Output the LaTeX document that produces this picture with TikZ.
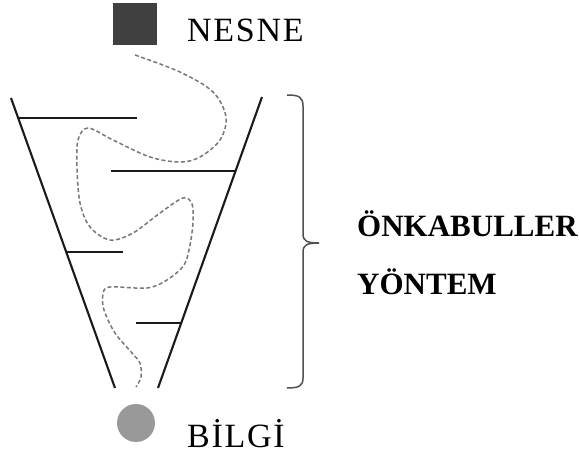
\documentclass[tikz,border=0pt]{standalone}
\usepackage{fontspec}
\setmainfont{Liberation Serif}
\definecolor{sqcol}{HTML}{404040}
\definecolor{dotcol}{HTML}{999999}
\definecolor{dashcol}{HTML}{777777}
\definecolor{linecol}{HTML}{1A1A1A}
\definecolor{bracecol}{HTML}{505050}
\tikzset{
  funnel/.style={draw=linecol, line width=2.1pt},
  shelf/.style={draw=linecol, line width=2.5pt},
  pathline/.style={draw=dashcol, line width=1.5pt, dash pattern=on 4pt off 2.5pt},
  bracestyle/.style={draw=bracecol, line width=1.5pt},
  lbl/.style={inner sep=0pt, anchor=base west, font=\fontsize{34}{40}\selectfont\addfontfeature{LetterSpace=5}},
  blbl/.style={inner sep=0pt, anchor=base west, font=\fontsize{31}{36}\selectfont\bfseries}
}
\begin{document}
\begin{tikzpicture}[x=1pt, y=-1pt]
\useasboundingbox (0,0) rectangle (579,457);
% object and knowledge
\node[fill=sqcol, minimum width=44pt, minimum height=42pt, inner sep=0pt] (obj) at (135,24) {};
\node[lbl] (nesne) at (187,42) {NESNE};
\node[circle, fill=dotcol, minimum size=38pt, inner sep=0pt] (info) at (136,423) {};
\node[lbl] (bilgi) at (187,447) {BİLGİ};
% funnel
\coordinate (lt) at (11,98);
\coordinate (lb) at (115,388);
\coordinate (rt) at (262,97);
\coordinate (rb) at (158,388);
\draw[funnel] (lt) -- (lb);
\draw[funnel] (rt) -- (rb);
% shelves
\coordinate (s1a) at (18,118); \coordinate (s1b) at (137,118);
\coordinate (s2a) at (111,171); \coordinate (s2b) at (235,171);
\coordinate (s3a) at (66,252); \coordinate (s3b) at (123,252);
\coordinate (s4a) at (136,323); \coordinate (s4b) at (181,323);
\draw[shelf] (s1a) -- (s1b);
\draw[shelf] (s2a) -- (s2b);
\draw[shelf] (s3a) -- (s3b);
\draw[shelf] (s4a) -- (s4b);
% winding path
\coordinate (ps) at (135,55);
\coordinate (pe) at (136,387);
\draw[pathline] plot[smooth, tension=0.55] coordinates {
 (ps) (180,72) (213,92) (226,117) (220,140) (200,157) (180,162) (150,157)
 (113,140) (88,128) (78,140) (77,167) (80,203) (90,227) (110,240) (133,233)
 (160,213) (183,198) (192,204) (193,222) (190,245) (184,265) (167,280)
 (147,288) (110,287) (103,294) (104,310) (115,333) (132,353) (140,363)
 (141,377) (pe)};
% brace
\coordinate (bt) at (287,95);
\coordinate (btip) at (319,243);
\coordinate (bb) at (287,388);
\draw[bracestyle] (bt) .. controls (299,95) and (303,97) .. (303,106) -- (303,234)
  .. controls (303,241) and (307,243) .. (btip)
  .. controls (307,243) and (303,245) .. (303,252) -- (303,378)
  .. controls (303,386) and (299,388) .. (bb);
\node[blbl] (onk) at (357,237) {ÖNKABULLER};
\node[blbl] (yon) at (357,295) {YÖNTEM};
\end{tikzpicture}
\end{document}
